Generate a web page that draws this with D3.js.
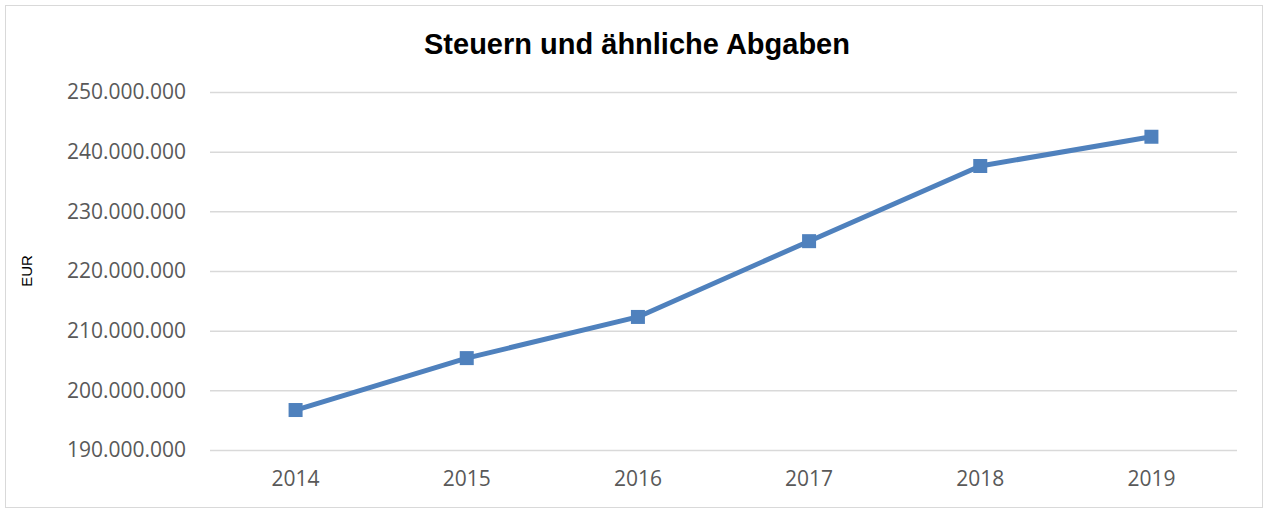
<!DOCTYPE html>
<html>
<head>
<meta charset="utf-8">
<script src="https://cdn.jsdelivr.net/npm/d3@7"></script>
<style>
  body { margin: 0; background: #fff; }
</style>
</head>
<body>
<script>
'use strict';

// chart data
const years = ["2014", "2015", "2016", "2017", "2018", "2019"];
const values = [196700000, 205400000, 212300000, 225000000, 237600000, 242500000];
const yTicks = [190000000, 200000000, 210000000, 220000000, 230000000, 240000000, 250000000];

const width = 1267, height = 512;
const plot = {left: 210, right: 1237, top: 92, bottom: 450};

const svg = d3.select('body')
  .append('svg')
  .attr('width', width)
  .attr('height', height);

// outer frame
svg.append('rect')
  .attr('x', 5.5).attr('y', 5.5)
  .attr('width', 1257).attr('height', 502)
  .attr('fill', '#fff')
  .attr('stroke', '#d9d9d9')
  .attr('stroke-width', 1);

// scales
const x = d3.scaleBand()
  .domain(years)
  .range([plot.left, plot.right]);

const y = d3.scaleLinear()
  .domain([190000000, 250000000])
  .range([plot.bottom, plot.top]);

// German style thousands separator
const fmt = d3.formatLocale({decimal: ",", thousands: ".", grouping: [3], currency: ["", " €"]}).format(",d");

// gridlines + y labels
const yAxis = d3.axisLeft(y)
  .tickValues(yTicks)
  .tickSize(-(plot.right - plot.left))
  .tickPadding(24)
  .tickFormat(fmt);

const gy = svg.append('g')
  .attr('transform', 'translate(' + plot.left + ',0)')
  .call(yAxis);
gy.select('.domain').remove();
gy.selectAll('line').attr('stroke', '#d9d9d9').attr('stroke-width', 1.5);
gy.selectAll('text')
  .attr('fill', '#595959')
  .attr('font-family', '"Open Sans", sans-serif')
  .attr('font-size', 21);

// x labels
const xAxis = d3.axisBottom(x).tickSize(0).tickPadding(21);
const gx = svg.append('g')
  .attr('transform', 'translate(0,' + plot.bottom + ')')
  .call(xAxis);
gx.select('.domain').remove();
gx.selectAll('text')
  .attr('fill', '#595959')
  .attr('font-family', '"Open Sans", sans-serif')
  .attr('font-size', 21);

// line
const line = d3.line()
  .x((d, i) => x(years[i]) + x.bandwidth() / 2)
  .y(d => y(d));

svg.append('path')
  .datum(values)
  .attr('fill', 'none')
  .attr('stroke', '#4f81bd')
  .attr('stroke-width', 5)
  .attr('stroke-linejoin', 'round')
  .attr('d', line);

// square markers
const m = 14;
svg.selectAll('.marker')
  .data(values)
  .enter()
  .append('rect')
    .attr('class', 'marker')
    .attr('x', (d, i) => x(years[i]) + x.bandwidth() / 2 - m / 2)
    .attr('y', d => y(d) - m / 2)
    .attr('width', m)
    .attr('height', m)
    .attr('fill', '#4f81bd');

// title
svg.append('text')
  .attr('x', 637)
  .attr('y', 54)
  .attr('text-anchor', 'middle')
  .style('font-family', '"Liberation Sans", Arial, sans-serif')
  .style('font-weight', 'bold')
  .style('font-size', '29px')
  .text('Steuern und ähnliche Abgaben');

// y axis title
svg.append('text')
  .attr('transform', 'translate(32, 271)rotate(-90)')
  .attr('text-anchor', 'middle')
  .style('font-family', '"Liberation Sans", Arial, sans-serif')
  .style('font-size', '15px')
  .text('EUR');
</script>
</body>
</html>
